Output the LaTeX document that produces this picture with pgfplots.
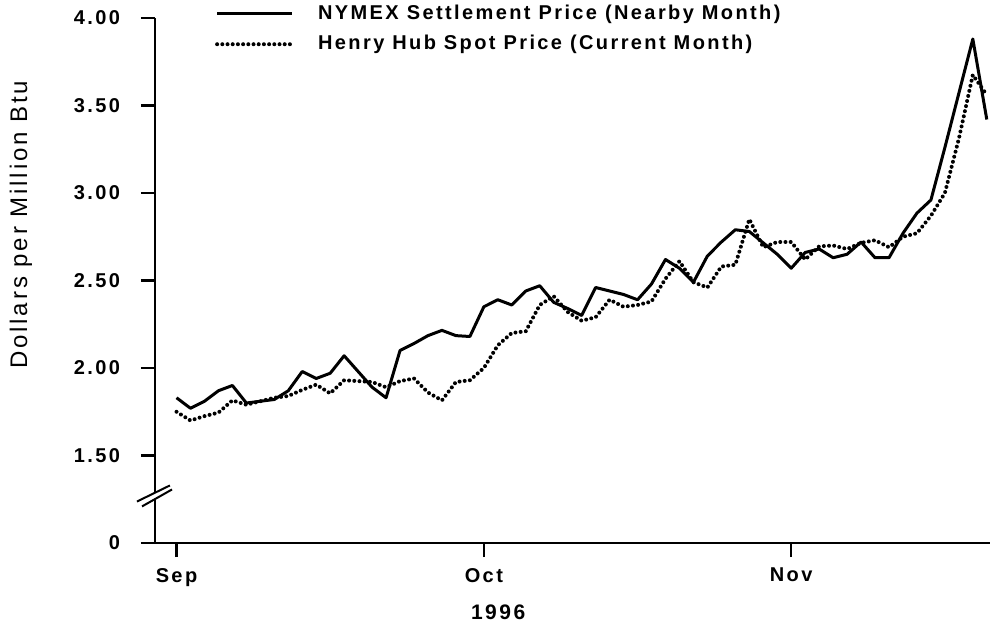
\documentclass[border=0pt]{standalone}
\usepackage{fontspec}
\setmainfont{Liberation Sans}[LetterSpace=12]
\usepackage{pgfplots}
\usepackage{pgfplotstable}
\pgfplotsset{compat=1.18}

% trading day index, price (dollars per million Btu)
\pgfplotstableread{
k p
0 1.83
1 1.77
2 1.81
3 1.87
4 1.90
5 1.80
6 1.81
7 1.82
8 1.87
9 1.98
10 1.94
11 1.97
12 2.07
13 1.98
14 1.89
15 1.83
16 2.10
17 2.14
18 2.185
19 2.215
20 2.185
21 2.18
22 2.35
23 2.39
24 2.36
25 2.44
26 2.47
27 2.375
28 2.34
29 2.30
30 2.46
31 2.44
32 2.42
33 2.39
34 2.48
35 2.62
36 2.57
37 2.49
38 2.64
39 2.72
40 2.79
41 2.78
42 2.715
43 2.65
44 2.57
45 2.66
46 2.68
47 2.63
48 2.65
49 2.72
50 2.63
51 2.63
52 2.77
53 2.885
54 2.96
55 3.26
56 3.57
57 3.88
58 3.42
}\nymex

\pgfplotstableread{
k p
0 1.75
1 1.70
2 1.725
3 1.745
4 1.815
5 1.79
6 1.81
7 1.83
8 1.84
9 1.875
10 1.905
11 1.855
12 1.93
13 1.925
14 1.92
15 1.89
16 1.925
17 1.94
18 1.86
19 1.815
20 1.92
21 1.93
22 2.00
23 2.13
24 2.20
25 2.21
26 2.36
27 2.41
28 2.32
29 2.27
30 2.29
31 2.39
32 2.35
33 2.36
34 2.38
35 2.51
36 2.61
37 2.49
38 2.46
39 2.58
40 2.59
41 2.85
42 2.69
43 2.72
44 2.72
45 2.62
46 2.695
47 2.70
48 2.68
49 2.715
50 2.73
51 2.69
52 2.75
53 2.77
54 2.87
55 3.00
56 3.31
57 3.675
58 3.56
}\henryhub

\begin{document}
\begin{tikzpicture}
\useasboundingbox (-77.5pt,-42pt) rectangle (423pt,271.5pt);
\begin{axis}[
    at={(0,0)}, anchor=south west,
    scale only axis, width=417.5pt, height=262.5pt,
    xmin=-1.54, xmax=58.23, ymin=1, ymax=4,
    axis lines*=left,
    axis line style={line width=1.1pt},
    tick align=outside, major tick length=7pt,
    tick style={line width=1.1pt, black},
    xtick={0,22,44}, xticklabels={Sep,Oct,Nov},
    ytick={1,1.5,2,2.5,3,3.5,4},
    yticklabels={0,1.50,2.00,2.50,3.00,3.50,4.00},
    ticklabel style={font=\bfseries\fontsize{10}{12}\selectfont},
    yticklabel style={xshift=-7pt},
    xticklabel style={yshift=-2pt},
    xlabel={1996},
    xlabel style={font=\bfseries\fontsize{10.5}{12}\selectfont,
        at={(axis description cs:0.411,-0.131)}, anchor=center},
    ylabel={Dollars per Million Btu},
    ylabel style={font=\fontsize{12}{14}\selectfont,
        at={(axis description cs:-0.1605,0.606)}, anchor=center},
    clip=false,
    legend cell align=left,
    legend image code/.code={\draw[#1] (0pt,0pt) -- (37.5pt,0pt);},
    legend style={draw=none, fill=none, inner sep=0pt, outer sep=0pt,
        at={(axis description cs:0.072,1.0)}, anchor=north west, yshift=8.5pt,
        font=\bfseries\fontsize{10}{12}\selectfont, row sep=2.5pt,
        /tikz/every odd column/.append style={column sep=10pt}},
]
\addplot[black, line width=1.5pt, line join=round] table[x=k, y=p] {\nymex};
\addplot[black, line width=2pt, dash pattern=on 0pt off 2.6pt, line cap=round] table[x=k, y=p] {\henryhub};
\legend{NYMEX Settlement Price (Nearby Month), Henry Hub Spot Price (Current Month)}
% axis break
\fill[white] (axis cs:-2.83,1.237) -- (axis cs:-0.47,1.329) -- (axis cs:-0.32,1.306) -- (axis cs:-2.47,1.209) -- cycle;
\draw[line width=1pt] (axis cs:-2.83,1.237) -- (axis cs:-0.47,1.329);
\draw[line width=1pt] (axis cs:-2.47,1.209) -- (axis cs:-0.32,1.306);
\end{axis}
\end{tikzpicture}
\end{document}
